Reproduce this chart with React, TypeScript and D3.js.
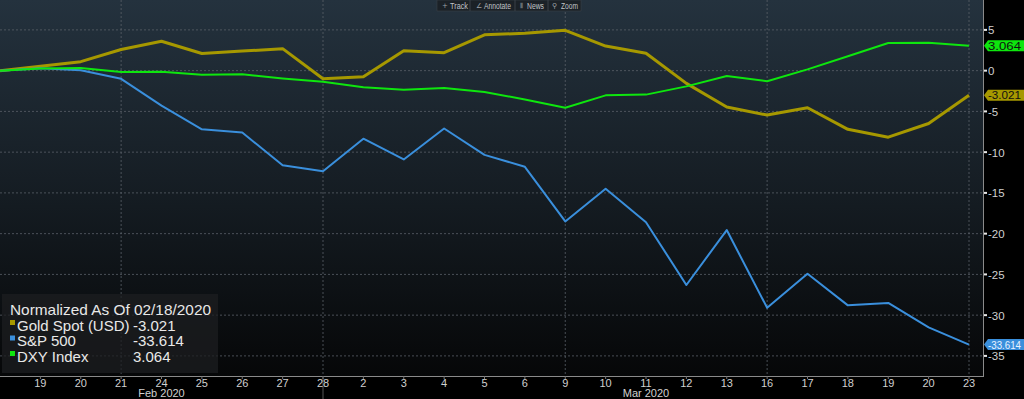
import * as d3 from 'd3';

const W = 1024;
const H = 399;

const dayLabels = ['18', '19', '20', '21', '24', '25', '26', '27', '28', '2', '3', '4', '5', '6', '9', '10', '11', '12', '13', '16', '17', '18', '19', '20', '23'];
const monthLabels = [
  { idx: 4, text: 'Feb 2020' },
  { idx: 16, text: 'Mar 2020' },
];
const gridDays = [3, 8, 14, 19, 24];
const yTicks = [5, 0, -5, -10, -15, -20, -25, -30, -35];

const goldValues = [0, 0.55, 1.1, 2.6, 3.6, 2.1, 2.4, 2.7, -1.0, -0.75, 2.45, 2.2, 4.4, 4.58, 4.95, 3.02, 2.14, -1.56, -4.47, -5.45, -4.55, -7.2, -8.16, -6.48, -3.021];
const spxValues = [0, 0.3, 0.04, -1.0, -4.3, -7.2, -7.6, -11.6, -12.35, -8.35, -10.9, -7.1, -10.33, -11.8, -18.5, -14.5, -18.6, -26.3, -19.56, -29.1, -24.93, -28.8, -28.5, -31.5, -33.614];
const dxyValues = [0, 0.25, 0.33, -0.17, -0.13, -0.5, -0.45, -0.95, -1.35, -2.05, -2.34, -2.14, -2.63, -3.53, -4.55, -3.03, -2.94, -1.93, -0.66, -1.3, 0.16, 1.76, 3.39, 3.43, 3.064];

const series = [
  { name: 'Gold Spot (USD)', values: goldValues, last: '-3.021', color: '#a69800', width: 3, labelText: '#111' },
  { name: 'S&P 500', values: spxValues, last: '-33.614', color: '#3a8fdc', width: 2, labelText: '#e8f2ff' },
  { name: 'DXY Index', values: dxyValues, last: '3.064', color: '#0ee60e', width: 2, labelText: '#111' },
];

const FONT = '"Liberation Sans", Arial, sans-serif';

export default function App() {
  const plotRight = 983;
  const plotBottom = 376;

  const x = d3.scaleLinear().domain([0, dayLabels.length - 1]).range([0, 969]);
  const y = d3.scaleLinear().domain([5, -35]).range([29.9, 355.9]);

  const line = d3
    .line<number>()
    .x((_, i) => x(i))
    .y((v) => y(v));

  const toolbar = [
    { icon: '+', text: 'Track', ix: 442, tx: 450, tw: 18 },
    { icon: '∠', text: 'Annotate', ix: 476, tx: 484, tw: 27 },
    { icon: '⦀', text: 'News', ix: 520, tx: 527, tw: 17 },
    { icon: '⚲', text: 'Zoom', ix: 552, tx: 561, tw: 17 },
  ];

  return (
    <div style={{ position: 'fixed', left: 0, top: 0 }}>
      <svg width={W} height={H} viewBox={`0 0 ${W} ${H}`} style={{ display: 'block', fontFamily: FONT }}>
        <defs>
          <linearGradient id="bg" x1="0" x2="0" y1="0" y2={plotBottom} gradientUnits="userSpaceOnUse">
            <stop offset="0%" stopColor="#24323e" />
            <stop offset="55%" stopColor="#141b21" />
            <stop offset="100%" stopColor="#060708" />
          </linearGradient>
          <clipPath id="plot-clip">
            <rect x={0} y={0} width={plotRight} height={plotBottom} />
          </clipPath>
        </defs>

        <rect x={0} y={0} width={W} height={H} fill="#000" />
        <rect x={0} y={0} width={plotRight} height={plotBottom} fill="url(#bg)" />

        {/* horizontal grid */}
        {yTicks.map((t) => (
          <line key={`h${t}`} x1={0} x2={plotRight} y1={y(t)} y2={y(t)} stroke="#5a6068" strokeWidth={1} strokeDasharray="2 2" opacity={0.8} />
        ))}
        {/* vertical grid */}
        {gridDays.map((d) => (
          <line key={`v${d}`} x1={x(d)} x2={x(d)} y1={0} y2={plotBottom} stroke="#5a6068" strokeWidth={1} strokeDasharray="2 2" opacity={0.8} />
        ))}

        {/* axes frame */}
        <line x1={plotRight + 0.5} x2={plotRight + 0.5} y1={0} y2={plotBottom} stroke="#8a8a8a" />
        <line x1={0} x2={plotRight + 1} y1={plotBottom + 0.5} y2={plotBottom + 0.5} stroke="#8a8a8a" />
        <line x1={x(8)} x2={x(8)} y1={plotBottom} y2={H} stroke="#555" />

        {/* series */}
        <g clipPath="url(#plot-clip)">
          {series.map((s) => (
            <path key={s.name} d={line(s.values) ?? ''} fill="none" stroke={s.color} strokeWidth={s.width} strokeLinejoin="round" />
          ))}
        </g>

        {/* y axis ticks */}
        {yTicks.map((t) => (
          <g key={`yt${t}`}>
            <rect x={plotRight + 1} y={y(t) - 1} width={3} height={2} fill="#e8e8e8" />
            <text x={plotRight + 5} y={y(t) + 4.5} fill="#d0d0d0" fontSize={11.5}>
              {t < 0 ? `-${Math.abs(t)}` : t}
            </text>
          </g>
        ))}

        {/* last value labels */}
        {series.map((s) => {
          const ly = y(+s.last);
          const h = 11;
          const pts = [
            [plotRight + 1, ly],
            [plotRight + 5, ly - h / 2],
            [W, ly - h / 2],
            [W, ly + h / 2],
            [plotRight + 5, ly + h / 2],
          ];
          return (
            <g key={`lbl${s.name}`}>
              <polygon points={pts.map((p) => p.join(',')).join(' ')} fill={s.color} />
              <text x={plotRight + 5} y={ly + 4} fill={s.labelText} fontSize={11} textLength={33} lengthAdjust="spacingAndGlyphs">
                {s.last}
              </text>
            </g>
          );
        })}

        {/* x axis labels */}
        {dayLabels.map((d, i) =>
          i === 0 ? null : (
            <g key={`xt${i}`}>
              <line x1={x(i)} x2={x(i)} y1={plotBottom} y2={plotBottom + 3} stroke="#777" />
              <text x={x(i)} y={387} fill="#d0d0d0" fontSize={11} textAnchor="middle">
                {d}
              </text>
            </g>
          )
        )}
        {monthLabels.map((m) => (
          <text key={m.text} x={x(m.idx)} y={397} fill="#d0d0d0" fontSize={11} textAnchor="middle">
            {m.text}
          </text>
        ))}

        {/* legend */}
        <rect x={2} y={294} width={216} height={79} fill="#1c1e20" opacity={0.75} />
        <text x={10} y={315} fill="#e8e8e8" fontSize={15} textLength={201} lengthAdjust="spacingAndGlyphs">
          Normalized As Of 02/18/2020
        </text>
        {series.map((s, i) => (
          <g key={`lg${s.name}`}>
            <rect x={10} y={320 + i * 15.5} width={5} height={5} fill={s.color} />
            <text x={17} y={330.5 + i * 15.5} fill="#e8e8e8" fontSize={15}>
              {s.name}
            </text>
            <text x={133} y={330.5 + i * 15.5} fill="#e8e8e8" fontSize={15}>
              {s.last}
            </text>
          </g>
        ))}

        {/* toolbar */}
        <rect x={437} y={0} width={144} height={11} fill="#1b2127" stroke="#3a4048" strokeWidth={0.6} />
        {[470, 515, 548].map((sx) => (
          <line key={`sep${sx}`} x1={sx} x2={sx} y1={0} y2={11} stroke="#3a4048" />
        ))}
        {toolbar.map((t) => (
          <g key={t.text}>
            <text x={t.ix} y={8} fill="#9aa0a6" fontSize={7} fontFamily='"DejaVu Sans", sans-serif'>
              {t.icon}
            </text>
            <text x={t.tx} y={8.5} fill="#c0c4c8" fontSize={8.5} textLength={t.tw} lengthAdjust="spacingAndGlyphs">
              {t.text}
            </text>
          </g>
        ))}
      </svg>
    </div>
  );
}
